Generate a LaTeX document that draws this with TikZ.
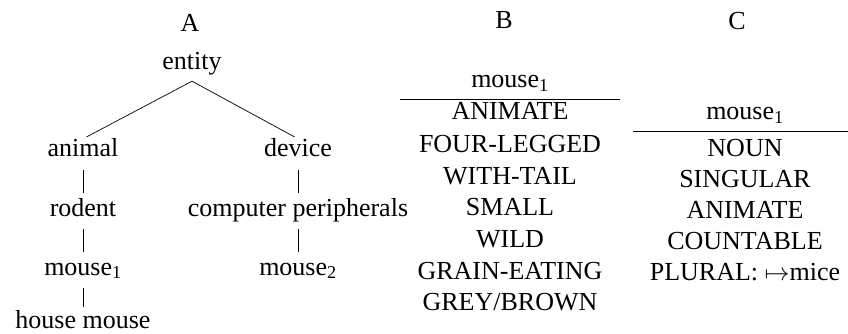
\documentclass[tikz,border=0pt]{standalone}
\usepackage{fontspec}
\setmainfont{Liberation Serif}
\begin{document}
\begin{tikzpicture}[x=1pt,y=-1pt,
  lbl/.style={anchor=base, inner sep=0pt, font=\fontsize{26}{31}\selectfont},
  tn/.style={lbl, text height=18pt, text depth=6pt},
  edge/.style={draw=black, line width=0.7pt},
  vedge/.style={edge, shorten <=7pt, shorten >=5pt},
  dedge/.style={edge, shorten >=4pt},
  rule/.style={draw=black, line width=0.8pt}]
\useasboundingbox (0,0) rectangle (848,334);

% ---- A: taxonomy tree ----
\node[lbl] (hA) at (190,32) {A};
\node[tn] (entity) at (192,70) {entity};
\node[tn] (animal) at (83,157) {animal};
\node[tn] (device) at (298,157) {device};
\node[tn] (rodent) at (83,216) {rodent};
\node[tn] (periph) at (298,216) {computer peripherals};
\node[tn] (mouseA) at (83,275) {mouse\textsubscript{1}};
\node[tn] (mouseB) at (298,275) {mouse\textsubscript{2}};
\node[tn] (house) at (83,328) {house mouse};

\coordinate (apex) at ([yshift=-5pt]entity.south);
\draw[dedge] (apex) -- (animal.north);
\draw[dedge] (apex) -- (device.north);
\draw[vedge] (animal.south) -- (rodent.north);
\draw[vedge] (rodent.south) -- (mouseA.north);
\draw[edge, shorten <=7pt, shorten >=3pt] (mouseA.south) -- (house.north);
\draw[vedge] (device.south) -- (periph.north);
\draw[vedge] (periph.south) -- (mouseB.north);

% ---- B: feature list ----
\node[lbl] (hB) at (504,29) {B};
\node[lbl] (bHead) at (510,88) {mouse\textsubscript{1}};
\coordinate (bL) at (400,99);
\coordinate (bR) at (620,99);
\draw[rule] (bL) -- (bR);
\node[lbl] (b1) at (510,120) {ANIMATE};
\node[lbl] (b2) at (510,152) {FOUR-LEGGED};
\node[lbl] (b3) at (510,184) {WITH-TAIL};
\node[lbl] (b4) at (510,215) {SMALL};
\node[lbl] (b5) at (510,247) {WILD};
\node[lbl] (b6) at (510,279) {GRAIN-EATING};
\node[lbl] (b7) at (510,310) {GREY/BROWN};

% ---- C: lexical entry ----
\node[lbl] (hC) at (737,30) {C};
\node[lbl] (cHead) at (745,120) {mouse\textsubscript{1}};
\coordinate (cL) at (633,131);
\coordinate (cR) at (848,131);
\draw[rule] (cL) -- (cR);
\node[lbl] (c1) at (745,156) {NOUN};
\node[lbl] (c2) at (745,187) {SINGULAR};
\node[lbl] (c3) at (745,218) {ANIMATE};
\node[lbl] (c4) at (745,249) {COUNTABLE};
\node[lbl] (c5) at (745,280) {PLURAL: $\mapsto$mice};
\end{tikzpicture}
\end{document}
